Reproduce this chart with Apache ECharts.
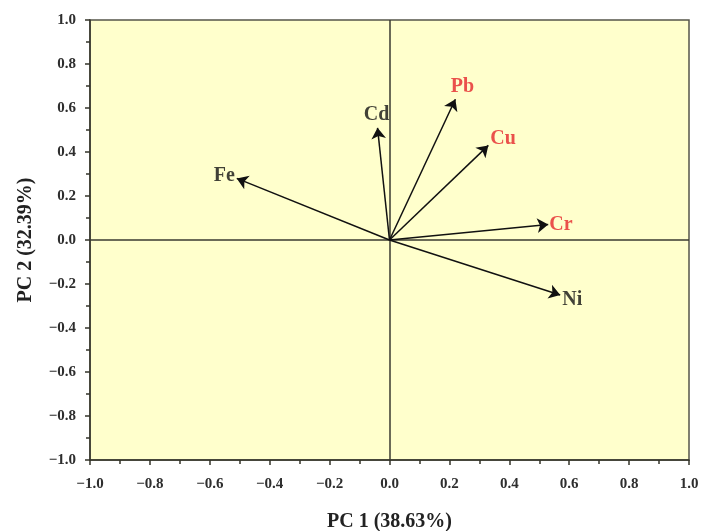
<!DOCTYPE html>
<html><head><meta charset="utf-8">
<script src="https://cdn.jsdelivr.net/npm/echarts@6/dist/echarts.min.js"></script>
<style>html,body{margin:0;padding:0;background:#fff}#c{width:703px;height:531px}</style>
</head><body><div id="c"></div>
<script>
const variables = ['Cd', 'Pb', 'Cu', 'Fe', 'Cr', 'Ni'];
const pc1 = [-0.04, 0.22, 0.33, -0.51, 0.53, 0.57];
const pc2 = [0.51, 0.64, 0.43, 0.28, 0.07, -0.25];
const highlighted = ['Pb', 'Cu', 'Cr'];
const xName = 'PC 1 (38.63%)';
const yName = 'PC 2 (32.39%)';

const font = 'Liberation Serif, Times New Roman, serif';
const labelPos = {Cd: 'top', Pb: 'top', Cu: 'right', Fe: 'left', Cr: 'right', Ni: 'right'};
const labelOff = {Cd: [-1, 2], Pb: [7, 3], Cu: [-3, -7], Fe: [3, -3], Cr: [-4, 0], Ni: [-3, 5]};

const fmt = v => (v < 0 ? '\u2212' : '') + Math.abs(v).toFixed(1);
const axisColor = '#35352a';
const axisCommon = {
  type: 'value', min: -1, max: 1, interval: 0.2,
  axisLine: {show: true, onZero: false, lineStyle: {color: axisColor, width: 1.5}},
  axisTick: {show: true, inside: false, length: 5, lineStyle: {color: axisColor, width: 1.5}},
  minorTick: {show: true, splitNumber: 2, length: 4, lineStyle: {color: axisColor, width: 1.5}},
  splitLine: {show: false},
  axisLabel: {formatter: fmt, fontFamily: font, fontWeight: 'bold', fontSize: 15, color: '#2e2e2e'},
  nameLocation: 'middle',
  nameTextStyle: {fontFamily: font, fontWeight: 'bold', fontSize: 20, color: '#222'}
};

const arrows = variables.map((v, i) => ({coords: [[0, 0], [pc1[i], pc2[i]]]}));
const tips = variables.map((v, i) => ({
  value: [pc1[i], pc2[i]], name: v,
  label: {position: labelPos[v], offset: labelOff[v], color: highlighted.includes(v) ? '#e5262b' : '#111'}
}));

const chart = echarts.init(document.getElementById('c'));
chart.setOption({
  animation: false,
  grid: {left: 90, top: 20, width: 599, height: 440, containLabel: false, outerBoundsMode: 'none',
         show: true, backgroundColor: '#ffffcc', borderColor: '#55554a', borderWidth: 1.5},
  xAxis: Object.assign({}, axisCommon, {name: xName, nameGap: 52, axisLabel: Object.assign({}, axisCommon.axisLabel, {margin: 17})}),
  yAxis: Object.assign({}, axisCommon, {name: yName, nameGap: 54, axisLabel: Object.assign({}, axisCommon.axisLabel, {margin: 14})}),
  series: [
    {
      type: 'lines', coordinateSystem: 'cartesian2d', silent: true,
      symbol: ['none', 'arrow'], symbolSize: 11,
      lineStyle: {color: '#111', width: 1.5, opacity: 1},
      data: arrows, z: 5
    },
    {
      type: 'scatter', symbolSize: 0, silent: true,
      label: {show: true, formatter: '{b}', fontFamily: font, fontWeight: 'bold', fontSize: 20},
      data: tips,
      markLine: {
        silent: true, symbol: 'none', label: {show: false},
        lineStyle: {color: '#3a3a30', width: 1.5, type: 'solid'},
        data: [{xAxis: 0}, {yAxis: 0}]
      }
    }
  ]
});
</script></body></html>
